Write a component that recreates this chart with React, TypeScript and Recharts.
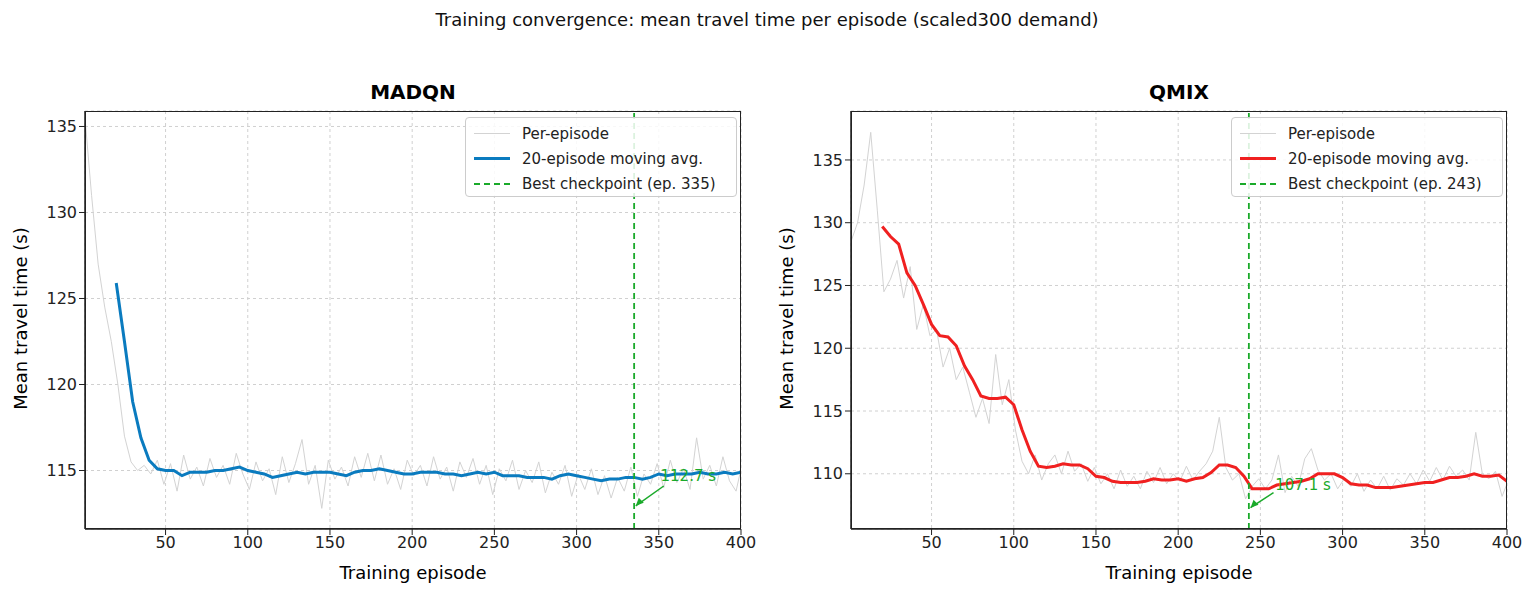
import { CartesianGrid, Line, LineChart, ReferenceDot, ReferenceLine, XAxis, YAxis } from 'recharts';

// per-episode samples (every 4th episode) and 20-episode moving averages
const madqnEpisodes = [1,5,9,13,17,21,25,29,33,37,41,45,49,53,57,61,65,69,73,77,81,85,89,93,97,101,105,109,113,117,121,125,129,133,137,141,145,149,153,157,161,165,169,173,177,181,185,189,193,197,201,205,209,213,217,221,225,229,233,237,241,245,249,253,257,261,265,269,273,277,281,285,289,293,297,301,305,309,313,317,321,325,329,333,337,341,345,349,353,357,361,365,369,373,377,381,385,389,393,397,400];
const madqnRaw = [135.5,131,127,124.5,122.5,120,117,115.5,115,115.3,114.8,115.6,114.2,115.4,113.8,115.9,114.5,115.2,114.1,115.7,114.6,115.3,114.2,116,114.8,113.9,115.5,114.4,115.1,113.6,115.8,114.3,115.4,116.8,114.2,115.3,112.8,115.6,114.5,115.2,114.1,115.8,114.6,116,114.4,115.9,114.2,115.1,113.9,115.6,114.7,115.3,114.1,115.8,114.5,115.2,113.8,115.5,114.6,115.7,114.2,115.3,113.6,115.1,114.4,115.6,113.9,115,114.3,115.5,113.7,114.9,114.2,115.3,113.5,114.8,113.9,115.1,113.6,114.7,113.4,114.6,113.8,115.2,113.5,114.8,114.2,115.4,114,115.6,114.3,115.1,113.9,116.9,114.5,115.3,114.1,115.8,114.4,113.8,115.1];
const qmixRaw = [128.5,130,133,137.2,131,124.5,125.5,127,124,126.5,121.5,123.5,121,121.5,118.5,120,117.5,118.5,116.5,114.5,116,114,119.5,115.5,117.5,113.5,111,110,111.5,109.5,110.8,111.5,110,111.8,110.2,110.8,109.4,110.5,109.2,110,108.8,110.3,109,109.8,108.8,110.2,109.3,110.5,109.2,110,109.4,110.6,109.5,110.2,110.8,111.8,114.5,110.5,109.5,110,108,109,109.6,108.8,109.5,111.5,108.5,109.8,109,111.2,112,110.3,109.5,110,108.8,109.6,109,110,108.6,109.5,108.8,109.8,108.7,109.6,109.1,110,109.2,110.3,109.4,110.5,109.5,110.6,109.8,110.3,109.5,113.3,110,109.6,110.2,108.2,109.2];

const maEpisodes = [20,25,30,35,40,45,50,55,60,65,70,75,80,85,90,95,100,105,110,115,120,125,130,135,140,145,150,155,160,165,170,175,180,185,190,195,200,205,210,215,220,225,230,235,240,245,250,255,260,265,270,275,280,285,290,295,300,305,310,315,320,325,330,335,340,345,350,355,360,365,370,375,380,385,390,395,400];
const madqnMA = [125.9,122.5,119,116.9,115.6,115.1,115,115,114.7,114.9,114.9,114.9,115,115,115.1,115.2,115,114.9,114.8,114.6,114.7,114.8,114.9,114.8,114.9,114.9,114.9,114.8,114.7,114.9,115,115,115.1,115,114.9,114.8,114.8,114.9,114.9,114.9,114.8,114.8,114.7,114.8,114.9,114.8,114.9,114.7,114.7,114.7,114.6,114.6,114.6,114.5,114.7,114.8,114.7,114.6,114.5,114.4,114.5,114.5,114.6,114.6,114.5,114.6,114.8,114.7,114.8,114.8,114.8,114.9,114.8,114.8,114.9,114.8,114.9];
const qmixMA = [129.7,128.9,128.3,126,125,123.5,121.9,121,120.9,120.2,118.6,117.5,116.2,116,116,116.1,115.5,113.5,111.8,110.6,110.5,110.6,110.8,110.7,110.7,110.4,109.8,109.7,109.4,109.3,109.3,109.3,109.4,109.6,109.5,109.5,109.6,109.4,109.6,109.7,110.1,110.7,110.7,110.5,109.8,108.8,108.8,108.8,109.1,109.2,109.3,109.4,109.6,110,110,110,109.7,109.2,109.1,109.1,108.9,108.9,108.9,109,109.1,109.2,109.3,109.3,109.5,109.7,109.7,109.8,110,109.8,109.8,109.9,109.4];

const xTicks = [50, 100, 150, 200, 250, 300, 350, 400];
const madqnTicks = [115, 120, 125, 130, 135];
const qmixTicks = [110, 115, 120, 125, 130, 135];

const FONT = 'DejaVu Sans, sans-serif';
const GREEN = '#1aaa2a';

const toRows = (xs: number[], ys: number[]) => xs.map((x, i) => ({ ep: x, v: ys[i] }));

interface PanelProps {
  title: string;
  left: number;
  width: number;
  color: string;
  raw: { ep: number; v: number }[];
  ma: { ep: number; v: number }[];
  yDomain: [number, number];
  yTicks: number[];
  best: number;
  bestVal: number;
  bestLabel: string;
  labelPos: { x: number; y: number };
  arrowFrom: { x: number; y: number };
  marginLeft: number;
  marginRight: number;
}

const Arrowhead = (props: any) => {
  const { cx, cy } = props;
  // small head pointing down-left
  return <polygon points={`${cx},${cy} ${cx + 3},${cy - 8} ${cx + 8},${cy - 3}`} fill={GREEN} />;
};

const Panel = (p: PanelProps) => {
  const plotLeft = p.marginLeft + 45;
  const plotWidth = p.width - p.marginRight - plotLeft;
  return (
    <div style={{ position: 'absolute', left: p.left, top: 0, width: p.width, height: 596 }}>
      <LineChart
        width={p.width}
        height={596}
        margin={{ top: 111, bottom: 37, left: p.marginLeft, right: p.marginRight }}
      >
        <CartesianGrid stroke="#d0d0d0" strokeDasharray="3 3" />
        <XAxis
          dataKey="ep"
          type="number"
          domain={[1, 400]}
          ticks={xTicks}
          allowDataOverflow
          height={30}
          tick={{ fontSize: 16, fill: '#222', fontFamily: FONT }}
          tickLine={{ stroke: '#222' }}
          axisLine={{ stroke: '#222', strokeWidth: 1.5 }}
        />
        <YAxis
          type="number"
          domain={p.yDomain}
          ticks={p.yTicks}
          allowDataOverflow
          width={45}
          tick={{ fontSize: 16, fill: '#222', fontFamily: FONT }}
          tickLine={{ stroke: '#222' }}
          axisLine={{ stroke: '#222', strokeWidth: 1.5 }}
        />
        <Line data={p.raw} dataKey="v" stroke="#d3d3d3" strokeWidth={1} dot={false} isAnimationActive={false} />
        <Line data={p.ma} dataKey="v" stroke={p.color} strokeWidth={3} dot={false} isAnimationActive={false} />
        <ReferenceLine x={p.best} stroke={GREEN} strokeWidth={1.8} strokeDasharray="6 4" />
        <ReferenceLine segment={[p.arrowFrom, { x: p.best + 1, y: p.bestVal }]} stroke={GREEN} strokeWidth={1.5} />
        <ReferenceDot x={p.best + 1} y={p.bestVal} r={0} shape={<Arrowhead />} />
        <ReferenceDot
          x={p.labelPos.x}
          y={p.labelPos.y}
          r={0}
          label={{ value: p.bestLabel, position: 'right', fill: GREEN, fontSize: 15, fontFamily: FONT }}
        />
      </LineChart>
      {/* frame around the plot area */}
      <div style={{ position: 'absolute', left: plotLeft, top: 111, width: plotWidth, height: 418, border: '1.5px solid #222', boxSizing: 'border-box', pointerEvents: 'none' }} />
      <div style={{ position: 'absolute', top: 80, left: plotLeft, width: plotWidth, textAlign: 'center', fontFamily: FONT, fontWeight: 'bold', fontSize: 20 }}>
        {p.title}
      </div>
      <div style={{ position: 'absolute', top: 562, left: plotLeft, width: plotWidth, textAlign: 'center', fontFamily: FONT, fontSize: 18 }}>
        Training episode
      </div>
      <div style={{ position: 'absolute', left: p.marginLeft - 150, top: 308, width: 260, textAlign: 'center', transform: 'rotate(-90deg)', fontFamily: FONT, fontSize: 18, transformOrigin: '50% 50%' }}>
        Mean travel time (s)
      </div>
      <div style={{ position: 'absolute', top: 117, right: p.marginRight + 4, width: 272, height: 80, background: 'rgba(255,255,255,0.85)', border: '1px solid #ccc', borderRadius: 4, fontFamily: FONT, fontSize: 15, color: '#222', boxSizing: 'border-box', padding: '3px 8px' }}>
        {[
          { label: 'Per-episode', color: '#d3d3d3', w: 1, dash: false },
          { label: '20-episode moving avg.', color: p.color, w: 3, dash: false },
          { label: `Best checkpoint (ep. ${p.best})`, color: GREEN, w: 2, dash: true },
        ].map(item => (
          <div key={item.label} style={{ display: 'flex', alignItems: 'center', height: 25 }}>
            <div style={{ width: 36, marginRight: 12, borderTop: `${item.w}px ${item.dash ? 'dashed' : 'solid'} ${item.color}` }} />
            {item.label}
          </div>
        ))}
      </div>
    </div>
  );
};

export default function App() {
  return (
    <div style={{ position: 'relative', width: 1534, height: 596, margin: '-8px 0 0 -8px', background: '#fff', overflow: 'hidden' }}>
      <div style={{ position: 'absolute', top: 9, width: 1534, textAlign: 'center', fontFamily: FONT, fontSize: 18, color: '#111' }}>
        Training convergence: mean travel time per episode (scaled300 demand)
      </div>
      <Panel
        title="MADQN" left={0} width={760} color="#0a7bbf"
        raw={toRows(madqnEpisodes, madqnRaw)} ma={toRows(maEpisodes, madqnMA)}
        yDomain={[111.6, 135.9]} yTicks={madqnTicks}
        best={335} bestVal={112.95} bestLabel="112.7 s" labelPos={{ x: 348, y: 114.7 }} arrowFrom={{ x: 353, y: 114.1 }}
        marginLeft={40} marginRight={19}
      />
      <Panel
        title="QMIX" left={770} width={764} color="#f02020"
        raw={toRows(madqnEpisodes, qmixRaw)} ma={toRows(maEpisodes, qmixMA)}
        yDomain={[105.6, 138.9]} yTicks={qmixTicks}
        best={243} bestVal={107.3} bestLabel="107.1 s" labelPos={{ x: 256, y: 109.1 }} arrowFrom={{ x: 258, y: 108.5 }}
        marginLeft={36} marginRight={27}
      />
    </div>
  );
}
